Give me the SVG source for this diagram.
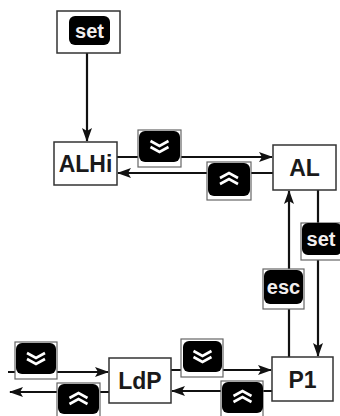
<svg xmlns="http://www.w3.org/2000/svg" width="340" height="416" viewBox="0 0 340 416">
<style>
.node{fill:#fff;stroke:#333;stroke-width:1.5}
.lbl{font-family:"Liberation Sans",Arial,sans-serif;font-weight:bold;font-size:23px;fill:#1a1a1a;text-anchor:middle}
.kout{fill:#fff;stroke:#666;stroke-width:1.2}
.kin{fill:#000}
.ktxt{font-family:"Liberation Sans",Arial,sans-serif;font-weight:bold;font-size:20px;fill:#f2eeee;text-anchor:middle}
.chev{fill:none;stroke:#fff;stroke-width:2.6;stroke-linejoin:miter}
.ln{stroke:#111;stroke-width:2.2;fill:none}
</style>
<defs>
<marker id="ah" markerWidth="14" markerHeight="10" refX="13" refY="5" orient="auto" markerUnits="userSpaceOnUse">
<path d="M0,0 L14,5 L0,10 L3,5 Z" fill="#111"/>
</marker>
<g id="dn"><path class="chev" d="M-9,-5 L0,0 L9,-5 M-9,1 L0,6 L9,1"/></g>
<g id="up"><path class="chev" d="M-9,5 L0,0 L9,5 M-9,-1 L0,-6 L9,-1"/></g>
</defs>

<g id="connectors">
<path class="ln" d="M87,53 V141" marker-end="url(#ah)"/>
<path class="ln" d="M117,157 H272" marker-end="url(#ah)"/>
<path class="ln" d="M273,173 H118" marker-end="url(#ah)"/>
<path class="ln" d="M289,357 V191" marker-end="url(#ah)"/>
<path class="ln" d="M318,190 V356" marker-end="url(#ah)"/>
<path class="ln" d="M171,370 H271" marker-end="url(#ah)"/>
<path class="ln" d="M272,391 H172" marker-end="url(#ah)"/>
<path class="ln" d="M8,372 H108" marker-end="url(#ah)"/>
<path class="ln" d="M109,392 H10" marker-end="url(#ah)"/>
</g>

<g id="set-start">
<rect class="node" x="57" y="11" width="63" height="42"/>
<rect class="kin" x="69" y="16" width="41" height="29" rx="6"/>
<text class="ktxt" x="89.5" y="37.5">set</text>
</g>

<g id="ALHi">
<rect class="node" x="54" y="142" width="63" height="43"/>
<text class="lbl" x="85.5" y="172">ALHi</text>
</g>
<g id="AL">
<rect class="node" x="273" y="145" width="63" height="45"/>
<text class="lbl" x="304.5" y="176">AL</text>
</g>
<g id="P1">
<rect class="node" x="272" y="357" width="61" height="44"/>
<text class="lbl" x="302.5" y="387.5">P1</text>
</g>
<g id="LdP">
<rect class="node" x="109" y="358" width="62" height="45"/>
<text class="lbl" x="140" y="388.5">LdP</text>
</g>

<g id="key-down-1">
<rect class="kout" x="138" y="130" width="43" height="37"/>
<rect class="kin" x="139" y="131" width="41" height="31" rx="6"/>
<use href="#dn" x="159.5" y="146"/>
</g>
<g id="key-up-1">
<rect class="kout" x="207" y="162" width="44" height="38"/>
<rect class="kin" x="208" y="163" width="42" height="33" rx="6"/>
<use href="#up" x="229" y="179"/>
</g>
<g id="key-set-2">
<rect class="kout" x="301" y="223" width="42" height="37"/>
<rect class="kin" x="302" y="223" width="40" height="32" rx="6"/>
<text class="ktxt" x="321" y="246">set</text>
</g>
<g id="key-esc">
<rect class="kout" x="263" y="269" width="41" height="40"/>
<rect class="kin" x="264" y="270" width="39" height="34" rx="6"/>
<text class="ktxt" x="283.5" y="294">esc</text>
</g>
<g id="key-down-2">
<rect class="kout" x="181" y="339" width="42" height="38"/>
<rect class="kin" x="183" y="341" width="39" height="31" rx="6"/>
<use href="#dn" x="202.5" y="356"/>
</g>
<g id="key-up-2">
<rect class="kout" x="221" y="381" width="42" height="40"/>
<rect class="kin" x="222" y="382" width="41" height="31" rx="6"/>
<use href="#up" x="242.5" y="397"/>
</g>
<g id="key-down-3">
<rect class="kout" x="15" y="342" width="42" height="37"/>
<rect class="kin" x="16" y="343" width="40" height="31" rx="6"/>
<use href="#dn" x="36" y="358"/>
</g>
<g id="key-up-3">
<rect class="kout" x="57" y="383" width="43" height="40"/>
<rect class="kin" x="58" y="384" width="41" height="30" rx="6"/>
<use href="#up" x="78.5" y="399"/>
</g>
</svg>
